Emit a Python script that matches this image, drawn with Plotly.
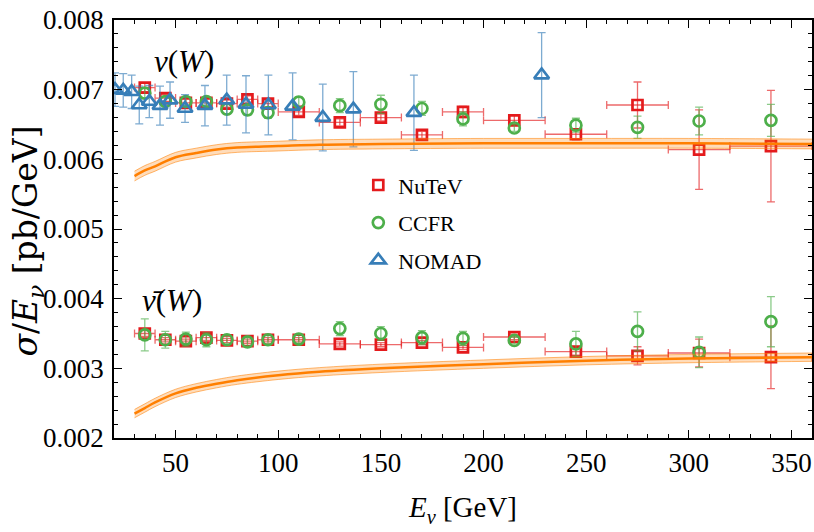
import plotly.graph_objects as go

# ---------------- data ----------------
nutev_E   = [35, 45, 55, 65, 75, 85, 95, 110, 130, 150, 170, 190, 215, 245, 275, 305, 340]
nutev_dE  = [5, 5, 5, 5, 5, 5, 5, 10, 10, 10, 10, 10, 15, 15, 15, 15, 20]
nutev_nu  = [0.00703, 0.00688, 0.00681, 0.00681, 0.00680, 0.00686, 0.00680, 0.00668, 0.00653,
             0.00660, 0.00635, 0.00668, 0.00656, 0.00636, 0.00678, 0.00614, 0.00619]
nutev_nu_err = [0.00006, 0.00005, 0.00005, 0.00005, 0.00005, 0.00005, 0.00005, 0.00005, 0.00005,
                0.00005, 0.00005, 0.00008, 0.00007, 0.00008, 0.00033, 0.00057, 0.00080]
nutev_nb  = [0.00350, 0.00341, 0.00339, 0.00344, 0.00340, 0.00339, 0.00341, 0.00341, 0.00335,
             0.00334, 0.00337, 0.00330, 0.00345, 0.00324, 0.00318, 0.00322, 0.00316]
nutev_nb_err = [0.00004, 0.00003, 0.00003, 0.00004, 0.00003, 0.00003, 0.00003, 0.00003, 0.00003,
                0.00003, 0.00003, 0.00003, 0.00004, 0.00005, 0.00013, 0.00020, 0.00045]

ccfr_E    = [35, 45, 55, 65, 75, 85, 95, 110, 130, 150, 170, 190, 215, 245, 275, 305, 340]
ccfr_nu   = [0.00695, 0.00683, 0.00683, 0.00683, 0.00672, 0.00671, 0.00667, 0.00682, 0.00677,
             0.00679, 0.00673, 0.00658, 0.00645, 0.00649, 0.00646, 0.00655, 0.00656]
ccfr_nu_err = [0.00008, 0.00006, 0.00006, 0.00006, 0.00007, 0.00008, 0.00008, 0.00008, 0.00010,
               0.00013, 0.00010, 0.00010, 0.00005, 0.00010, 0.00016, 0.00020, 0.00023]
ccfr_nb   = [0.00348, 0.00341, 0.00342, 0.00341, 0.00341, 0.00338, 0.00341, 0.00342, 0.00357,
             0.00350, 0.00344, 0.00343, 0.00340, 0.00335, 0.00353, 0.00323, 0.00367]
ccfr_nb_err = [0.00023, 0.00012, 0.00010, 0.00010, 0.00006, 0.00006, 0.00006, 0.00006, 0.00010,
               0.00010, 0.00010, 0.00010, 0.00005, 0.00018, 0.00028, 0.00022, 0.00036]

nomad_E   = [20.5, 24.5, 28.6, 32.3, 37.2, 42.4, 47.3, 54.6, 64.3, 74.9, 84.3, 95.2, 107.0,
             121.7, 136.6, 166.1, 228.3]
nomad_nu  = [0.00700, 0.00699, 0.00697, 0.00678, 0.00683, 0.00677, 0.00685, 0.00673, 0.00677,
             0.00685, 0.00679, 0.00678, 0.00676, 0.00660, 0.00672, 0.00667, 0.00721]
nomad_nu_err = [0.00024, 0.00024, 0.00024, 0.00027, 0.00023, 0.00028, 0.00026, 0.00020, 0.00029,
                0.00036, 0.00041, 0.00043, 0.00048, 0.00048, 0.00054, 0.00054, 0.00061]

theory_E  = [30, 35, 40, 50, 60, 70, 80, 100, 120, 150, 200, 250, 300, 360]
theory_nu = [0.00576, 0.00584, 0.00590, 0.00603, 0.00609, 0.00614, 0.00617, 0.00619, 0.00621,
             0.00622, 0.00623, 0.00623, 0.00623, 0.00622]
theory_nb = [0.00235, 0.00243, 0.00251, 0.00264, 0.00272, 0.00278, 0.00283, 0.00290, 0.00295,
             0.00300, 0.00306, 0.00311, 0.00314, 0.00316]
theory_nu_band = [0.00007] * len(theory_E)
theory_nb_band = [0.00006] * len(theory_E)

x_ticks = [50, 100, 150, 200, 250, 300, 350]
y_ticks = [0.002, 0.003, 0.004, 0.005, 0.006, 0.007, 0.008]

# ---------------- styles ----------------
RED = "#e41a1c"
GREEN = "#4daf4a"
BLUE = "#377eb8"
ORANGE = "#ff7f00"
FONT = "Liberation Serif"
ERRCOL = {RED: "rgba(228,26,28,0.65)", GREEN: "rgba(77,175,74,0.65)", BLUE: "rgba(55,126,184,0.65)"}

fig = go.Figure()


def data_trace(x, y, yerr, color, symbol, size, name, show, xerr=None):
    kw = {}
    if xerr is not None:
        kw["error_x"] = dict(type="data", array=xerr, visible=True, color=ERRCOL[color],
                             thickness=1.3, width=4)
    return go.Scatter(
        x=x, y=y, mode="markers", name=name, showlegend=show, legendgroup=name,
        marker=dict(symbol=symbol, size=size, color=color, line=dict(color=color, width=2.7)),
        error_y=dict(type="data", array=yerr, visible=True, color=ERRCOL[color], thickness=1.3, width=4),
        **kw)


# NuTeV
fig.add_trace(data_trace(nutev_E, nutev_nu, nutev_nu_err, RED, "square-open", 10, "NuTeV", True, nutev_dE))
fig.add_trace(data_trace(nutev_E, nutev_nb, nutev_nb_err, RED, "square-open", 10, "NuTeV", False, nutev_dE))
# CCFR
fig.add_trace(data_trace(ccfr_E, ccfr_nu, ccfr_nu_err, GREEN, "circle-open", 11, "CCFR", True))
fig.add_trace(data_trace(ccfr_E, ccfr_nb, ccfr_nb_err, GREEN, "circle-open", 11, "CCFR", False))
# NOMAD
fig.add_trace(data_trace(nomad_E, nomad_nu, nomad_nu_err, BLUE, "triangle-up-open", 13, "NOMAD", True))

# theory bands
for cen, band in [(theory_nu, theory_nu_band), (theory_nb, theory_nb_band)]:
    up = [c + b for c, b in zip(cen, band)]
    lo = [c - b for c, b in zip(cen, band)]
    fig.add_trace(go.Scatter(x=theory_E, y=lo, mode="lines",
                             line=dict(color="rgba(255,127,0,0.55)", width=1, shape="spline"),
                             showlegend=False, hoverinfo="skip"))
    fig.add_trace(go.Scatter(x=theory_E, y=up, mode="lines",
                             line=dict(color="rgba(255,127,0,0.55)", width=1, shape="spline"),
                             fill="tonexty", fillcolor="rgba(255,127,0,0.27)", showlegend=False, hoverinfo="skip"))
    fig.add_trace(go.Scatter(x=theory_E, y=cen, mode="lines", line=dict(color=ORANGE, width=2.5, shape="spline"),
                             showlegend=False, hoverinfo="skip"))

axis_common = dict(
    showline=True, linecolor="black", linewidth=1.5, mirror="allticks",
    ticks="inside", ticklen=8, tickwidth=1.3, tickcolor="black",
    showgrid=False, zeroline=False, automargin=False, ticklabeloverflow="allow",
    tickfont=dict(family=FONT, size=27, color="black"),
)

fig.update_xaxes(
    range=[20, 360], tickvals=x_ticks, ticktext=[str(v) for v in x_ticks],
    minor=dict(ticks="inside", ticklen=4, tickwidth=1, tickcolor="black", dtick=10, tick0=0, showgrid=False),
    title=dict(text="<i>E</i><sub><i>ν</i></sub> [GeV]", font=dict(family=FONT, size=29, color="black"), standoff=20),
    ticklabelstandoff=0,
    **axis_common)
fig.update_yaxes(
    range=[0.002, 0.008], tickvals=y_ticks, ticktext=["%.3f" % v for v in y_ticks],
    minor=dict(ticks="inside", ticklen=4, tickwidth=1, tickcolor="black", dtick=0.0002, tick0=0, showgrid=False),
    ticklabelstandoff=3,
    **axis_common)

# y-axis title as rotated annotation (precise placement)
fig.add_annotation(xref="paper", yref="paper", x=-0.1232, y=0.47, xanchor="center", yanchor="middle",
                   textangle=-90, text="<i>σ</i>/<i>E</i><sub><i>ν</i></sub> [pb/GeV]", showarrow=False,
                   font=dict(family="DejaVu Serif", size=33, color="black"))

fig.add_annotation(xref="paper", yref="paper", x=0.054, y=0.9, xanchor="left", yanchor="middle",
                   text="<i>ν</i>(<i>W</i>)", showarrow=False, font=dict(family=FONT, size=31, color="black"))
fig.add_annotation(xref="paper", yref="paper", x=0.037, y=0.33, xanchor="left", yanchor="middle",
                   text="<i>ν̄</i>(<i>W</i>)", showarrow=False, font=dict(family=FONT, size=31, color="black"))

fig.update_layout(
    width=814, height=532,
    margin=dict(l=114, r=2, t=20, b=94),
    plot_bgcolor="white", paper_bgcolor="white",
    font=dict(family=FONT, color="black"),
    legend=dict(x=0.35, y=0.655, xanchor="left", yanchor="top", bgcolor="rgba(0,0,0,0)",
                font=dict(family=FONT, size=22, color="black"), tracegroupgap=6, itemwidth=30),
)

fig.write_html("out.html", config={"displayModeBar": False},
               post_script="document.body.style.margin='0px';document.body.style.overflow='hidden';")
